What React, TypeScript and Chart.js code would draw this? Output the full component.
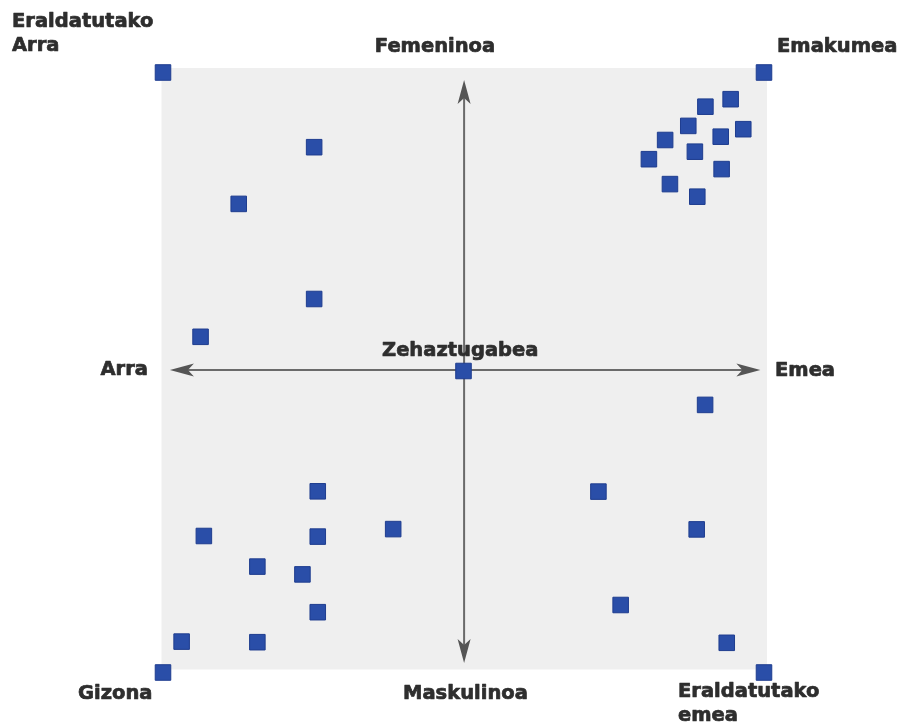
import React, { useEffect, useRef } from "react";
import { Chart, registerables } from "chart.js";

Chart.register(...registerables);

// Data (x: Arra(-) ↔ Emea(+), y: Maskulinoa(-) ↔ Femeninoa(+))
const xValues: number[] = [
  10, 8.89, 8.05, 7.48, 9.31, 6.71, 8.56, 7.7, 6.17, 8.59, 6.87, 7.78,
  -10, -4.97, -7.48, -4.97, -8.75, 0,
  -4.85, -8.64, -4.85, -2.34, -6.86, -5.36, -4.85, -9.38, -6.86, -10,
  8.04, 4.49, 7.76, 5.23, 8.76, 10,
];
const yValues: number[] = [
  10, 9.11, 8.86, 8.22, 8.11, 7.75, 7.86, 7.36, 7.11, 6.78, 6.28, 5.86,
  10, 7.51, 5.62, 2.45, 1.19, 0.05,
  -3.96, -5.45, -5.47, -5.22, -6.47, -6.73, -7.99, -8.97, -8.99, -10,
  -1.08, -3.97, -5.23, -7.75, -9.01, -10,
];

const labelTexts: string[] = [
  "Eraldatutako", "Arra", "Femeninoa", "Emakumea", "Arra", "Zehaztugabea",
  "Emea", "Gizona", "Maskulinoa", "Eraldatutako", "emea",
];

// layout of labels (page pixels): [x, y, align]
const labelLayout: [number, number, CanvasTextAlign][] = [
  [12, 22, "left"],
  [12, 46, "left"],
  [435, 47, "center"],
  [777, 47, "left"],
  [148, 370, "right"],
  [382, 351, "left"],
  [775, 371, "left"],
  [78, 694, "left"],
  [403, 694, "left"],
  [678, 692, "left"],
  [678, 716, "left"],
];

function arrowHead(ctx: CanvasRenderingContext2D, tx: number, ty: number, dx: number, dy: number) {
  const len = 24;
  const half = 6.5;
  const px = -dy, py = dx;
  const bx = tx - dx * len, by = ty - dy * len;
  const nx = tx - dx * (len - 6), ny = ty - dy * (len - 6);
  ctx.beginPath();
  ctx.moveTo(tx, ty);
  ctx.lineTo(bx + px * half, by + py * half);
  ctx.lineTo(nx, ny);
  ctx.lineTo(bx - px * half, by - py * half);
  ctx.closePath();
  ctx.fill();
}

const decorPlugin = {
  id: "decor",
  beforeDatasetsDraw(chart: any) {
    const { ctx, scales } = chart;
    const xs = scales.x, ys = scales.y;
    ctx.save();
    const l = xs.getPixelForValue(-10.05), r = xs.getPixelForValue(10.1);
    const t = ys.getPixelForValue(10.15), b = ys.getPixelForValue(-9.9);
    ctx.fillStyle = "#efefef";
    ctx.fillRect(l, t, r - l, b - t);
    const cx = xs.getPixelForValue(0.02);
    const cy = ys.getPixelForValue(0.08);
    const xl = xs.getPixelForValue(-9.77), xr = xs.getPixelForValue(9.88);
    const yt = ys.getPixelForValue(9.75), yb = ys.getPixelForValue(-9.68);
    ctx.strokeStyle = "#6a6a6a";
    ctx.lineWidth = 2;
    ctx.beginPath();
    ctx.moveTo(xl + 10, cy);
    ctx.lineTo(xr - 10, cy);
    ctx.moveTo(cx, yt + 10);
    ctx.lineTo(cx, yb - 10);
    ctx.stroke();
    ctx.fillStyle = "#555555";
    arrowHead(ctx, xl, cy, -1, 0);
    arrowHead(ctx, xr, cy, 1, 0);
    arrowHead(ctx, cx, yt, 0, -1);
    arrowHead(ctx, cx, yb, 0, 1);
    ctx.restore();
  },
  afterDatasetsDraw(chart: any) {
    const { ctx } = chart;
    ctx.save();
    ctx.font = "bold 19.5px 'DejaVu Sans'";
    ctx.fillStyle = "#2e2e2e";
    ctx.strokeStyle = "#2e2e2e";
    ctx.lineWidth = 0.7;
    ctx.lineJoin = "round";
    ctx.textBaseline = "middle";
    labelTexts.forEach((txt, i) => {
      const [x, y, align] = labelLayout[i];
      ctx.textAlign = align;
      ctx.fillText(txt, x, y);
      ctx.strokeText(txt, x, y);
    });
    ctx.restore();
  },
};

export default function App() {
  const ref = useRef<HTMLCanvasElement | null>(null);
  useEffect(() => {
    if (!ref.current) return;
    const points = xValues.map((x, i) => ({ x, y: yValues[i] }));
    const chart = new Chart(ref.current, {
      type: "scatter",
      data: {
        datasets: [
          {
            data: points,
            pointStyle: "rect",
            pointRadius: 11,
            pointHoverRadius: 11,
            backgroundColor: "#2a4ea8",
            borderColor: "#1f3d8f",
            borderWidth: 1,
            clip: false as any,
          },
        ],
      },
      options: {
        animation: false,
        responsive: false,
        maintainAspectRatio: false,
        layout: { padding: { left: 163, right: 139, top: 72.5, bottom: 55.5 } },
        plugins: { legend: { display: false }, tooltip: { enabled: false } },
        scales: {
          x: { type: "linear", min: -10, max: 10, display: false },
          y: { type: "linear", min: -10, max: 10, display: false },
        },
      },
      plugins: [decorPlugin],
    });
    return () => chart.destroy();
  }, []);
  return (
    <div style={{ position: "fixed", left: 0, top: 0, width: 903, height: 728, background: "#fff" }}>
      <canvas ref={ref} width={903} height={728} style={{ width: 903, height: 728 }} />
    </div>
  );
}
